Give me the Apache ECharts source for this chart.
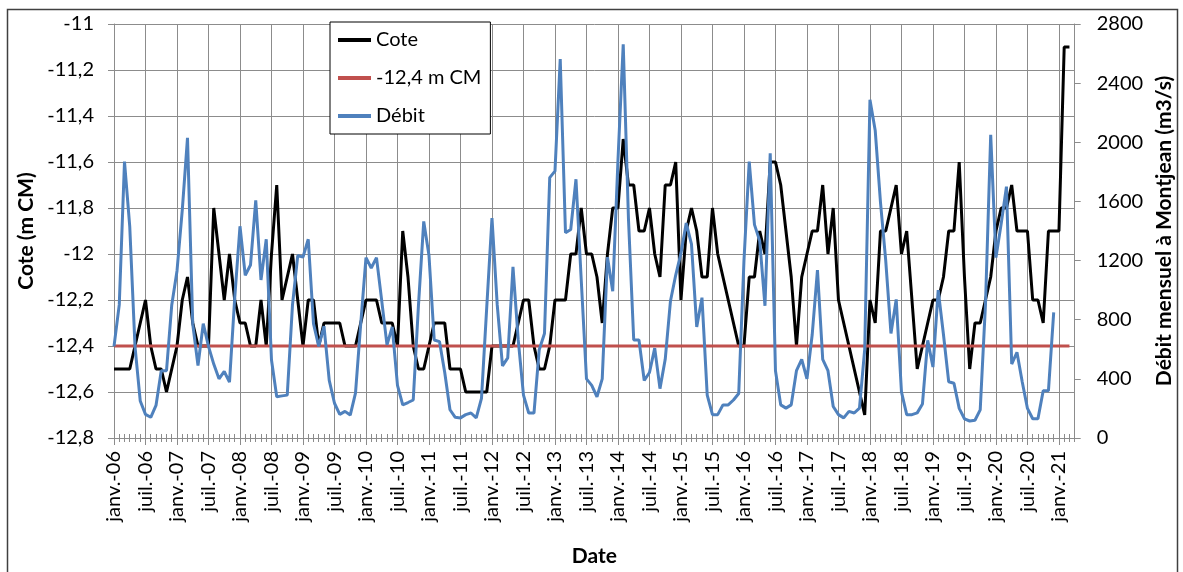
<!DOCTYPE html>
<html>
<head>
<meta charset="utf-8">
<script src="https://cdn.jsdelivr.net/npm/echarts/dist/echarts.min.js"></script>
<style>
  html, body { margin: 0; padding: 0; background: #fff; }
  #chart { width: 1183px; height: 572px; }
</style>
</head>
<body>
<div id="chart"></div>
<script>
// mois (étiquettes) et années de l'axe
const moisNoms = ['janv.', 'févr.', 'mars', 'avr.', 'mai', 'juin', 'juil.', 'août', 'sept.', 'oct.', 'nov.', 'déc.'];
const annees = ['06', '07', '08', '09', '10', '11', '12', '13', '14', '15', '16', '17', '18', '19', '20', '21'];
const nbMois = 184; // janv.-06 -> avr.-21 (fin de l'axe)

// cote mensuelle (m CM), janv.-06 -> mars-21
const cote = [
  -12.5, -12.5, -12.5, -12.5, -12.4, -12.3, -12.2, -12.4, -12.5, -12.5,
  -12.6, -12.5, -12.4, -12.2, -12.1, -12.3, -12.4, -12.4, -12.4, -11.8,
  -12.0, -12.2, -12.0, -12.2, -12.3, -12.3, -12.4, -12.4, -12.2, -12.4,
  -12.0, -11.7, -12.2, -12.1, -12.0, -12.2, -12.4, -12.2, -12.2, -12.4,
  -12.3, -12.3, -12.3, -12.3, -12.4, -12.4, -12.4, -12.3, -12.2, -12.2,
  -12.2, -12.3, -12.3, -12.3, -12.4, -11.9, -12.1, -12.4, -12.5, -12.5,
  -12.4, -12.3, -12.3, -12.3, -12.5, -12.5, -12.5, -12.6, -12.6, -12.6,
  -12.6, -12.6, -12.4, -12.4, -12.4, -12.4, -12.4, -12.3, -12.2, -12.2,
  -12.4, -12.5, -12.5, -12.4, -12.2, -12.2, -12.2, -12.0, -12.0, -11.8,
  -12.0, -12.0, -12.1, -12.3, -12.0, -11.8, -11.8, -11.5, -11.7, -11.7,
  -11.9, -11.9, -11.8, -12.0, -12.1, -11.7, -11.7, -11.6, -12.2, -11.9,
  -11.8, -11.9, -12.1, -12.1, -11.8, -12.0, -12.1, -12.2, -12.3, -12.4,
  -12.4, -12.1, -12.1, -11.9, -12.0, -11.6, -11.6, -11.7, -11.9, -12.1,
  -12.4, -12.1, -12.0, -11.9, -11.9, -11.7, -12.0, -11.8, -12.2, -12.3,
  -12.4, -12.5, -12.6, -12.7, -12.2, -12.3, -11.9, -11.9, -11.8, -11.7,
  -12.0, -11.9, -12.2, -12.5, -12.4, -12.3, -12.2, -12.2, -12.1, -11.9,
  -11.9, -11.6, -12.1, -12.5, -12.3, -12.3, -12.2, -12.1, -11.9, -11.8,
  -11.8, -11.7, -11.9, -11.9, -11.9, -12.2, -12.2, -12.3, -11.9, -11.9,
  -11.9, -11.1, -11.1
];

// seuil de référence
const seuil = -12.4;

// débit mensuel à Montjean (m3/s), janv.-06 -> déc.-20
const debit = [
  620, 900, 1870, 1430, 620, 250, 160, 140, 220, 455,
  455, 900, 1130, 1540, 2030, 770, 490, 773, 620, 500,
  400, 450, 378, 950, 1432, 1100, 1170, 1607, 1069, 1344,
  527, 279, 285, 290, 900, 1234, 1223, 1344, 773, 619,
  757, 390, 235, 160, 180, 155, 303, 773, 1220, 1150,
  1220, 927, 630, 751, 356, 224, 240, 257, 900, 1465,
  1234, 663, 652, 443, 191, 140, 136, 158, 169, 136,
  268, 883, 1487, 900, 488, 542, 1157, 663, 290, 169,
  169, 597, 707, 1761, 1805, 2563, 1388, 1410, 1750, 1070,
  400, 356, 279, 400, 1223, 993, 1880, 2662, 1480, 663,
  663, 389, 443, 608, 334, 532, 927, 1102, 1250, 1454,
  1311, 751, 949, 290, 158, 158, 224, 224, 257, 301,
  1200, 1870, 1443, 1333, 894, 1926, 455, 224, 202, 224,
  455, 532, 400, 700, 1135, 532, 455, 213, 158, 136,
  180, 169, 202, 600, 2288, 2080, 1596, 1201, 707, 937,
  312, 158, 158, 170, 230, 660, 480, 1000, 700, 380,
  370, 200, 130, 115, 120, 190, 900, 2050, 1220, 1450,
  1700, 500, 580, 380, 200, 130, 130, 320, 320, 850
];

let categories = [];
for (let a = 0; a < annees.length; a++) {
  for (let m = 0; m < 12; m++) {
    if (categories.length < nbMois) categories.push(moisNoms[m] + '-' + annees[a]);
  }
}
let seuilData = cote.map(function () { return seuil; });

let police = 'Lato, "Open Sans", sans-serif';
let gris = '#8c8c8c';

let myChart = echarts.init(document.getElementById('chart'));
let option = {
  animation: false,
  backgroundColor: '#fff',
  textStyle: { fontFamily: police },
  grid: { left: 114, top: 24, width: 961, height: 425, containLabel: false },
  legend: {
    orient: 'vertical',
    left: 330,
    top: 22,
    padding: [8, 9, 8, 8],
    itemGap: 18,
    itemWidth: 33,
    itemHeight: 4,
    icon: 'rect',
    backgroundColor: '#fff',
    borderColor: '#000',
    borderWidth: 1,
    borderRadius: 0,
    textStyle: { fontFamily: police, fontSize: 20, color: '#000', lineHeight: 20 },
    data: ['Cote', '-12,4 m CM', 'Débit']
  },
  xAxis: [
    {
      type: 'category',
      data: categories,
      boundaryGap: false,
      name: 'Date',
      nameLocation: 'middle',
      nameGap: 108,
      nameTextStyle: { fontFamily: police, fontSize: 21, fontWeight: 'bold', color: '#000' },
      axisLine: { lineStyle: { color: gris, width: 1 } },
      axisTick: { interval: 5, length: 7, lineStyle: { color: gris } },
      axisLabel: { interval: 5, rotate: 90, fontSize: 20, color: '#000', margin: 13, fontFamily: police },
      splitLine: { show: true, interval: 5, lineStyle: { color: gris, width: 1 } }
    },
    {
      type: 'category',
      data: categories,
      boundaryGap: false,
      position: 'bottom',
      axisLine: { show: false },
      axisLabel: { show: false },
      axisTick: { interval: 0, length: 4, inside: true, lineStyle: { color: gris } },
      splitLine: { show: false }
    },
    {
      type: 'category',
      data: categories,
      boundaryGap: false,
      position: 'bottom',
      axisLine: { show: false },
      axisLabel: { show: false },
      axisTick: { interval: 0, length: 4, lineStyle: { color: gris } },
      splitLine: { show: false }
    }
  ],
  yAxis: [
    {
      type: 'value',
      min: -12.8,
      max: -11,
      interval: 0.2,
      name: 'Cote (m CM)',
      nameLocation: 'middle',
      nameGap: 76,
      nameTextStyle: { fontFamily: police, fontSize: 21, fontWeight: 'bold', color: '#000' },
      axisLine: { show: true, lineStyle: { color: gris } },
      axisTick: { show: true, length: 6, lineStyle: { color: gris } },
      axisLabel: {
        fontSize: 20, color: '#000', margin: 20, fontFamily: police,
        formatter: function (v) { return String(Math.round(v * 10) / 10).replace('.', ','); }
      },
      splitLine: { show: true, lineStyle: { color: gris, width: 1 } }
    },
    {
      type: 'value',
      min: 0,
      max: 2800,
      interval: 400,
      position: 'right',
      name: 'Débit mensuel à Montjean (m3/s)',
      nameLocation: 'middle',
      nameGap: 78,
      nameRotate: 90,
      nameTextStyle: { fontFamily: police, fontSize: 21, fontWeight: 'bold', color: '#000' },
      axisLine: { show: true, lineStyle: { color: gris } },
      axisTick: { show: true, length: 6, lineStyle: { color: gris } },
      axisLabel: {
        fontSize: 20, color: '#000', margin: 22, fontFamily: police,
        formatter: function (v) { return String(v); }
      },
      splitLine: { show: false }
    }
  ],
  series: [
    {
      name: 'Cote',
      type: 'line',
      data: cote,
      xAxisIndex: 0,
      yAxisIndex: 0,
      showSymbol: false,
      symbol: 'none',
      color: '#000000',
      lineStyle: { color: '#000000', width: 3 }
    },
    {
      name: '-12,4 m CM',
      type: 'line',
      data: seuilData,
      xAxisIndex: 0,
      yAxisIndex: 0,
      showSymbol: false,
      symbol: 'none',
      color: '#c0504d',
      lineStyle: { color: '#c0504d', width: 3 }
    },
    {
      name: 'Débit',
      type: 'line',
      data: debit,
      xAxisIndex: 0,
      yAxisIndex: 1,
      showSymbol: false,
      symbol: 'none',
      color: '#4f81bd',
      lineStyle: { color: '#4f81bd', width: 3 }
    }
  ],
  graphic: [
    {
      type: 'rect',
      silent: true,
      shape: { x: 7.5, y: 9.5, width: 1170, height: 600 },
      style: { fill: 'none', stroke: '#404040', lineWidth: 1.5 }
    }
  ]
};
myChart.setOption(option);
</script>
</body>
</html>
